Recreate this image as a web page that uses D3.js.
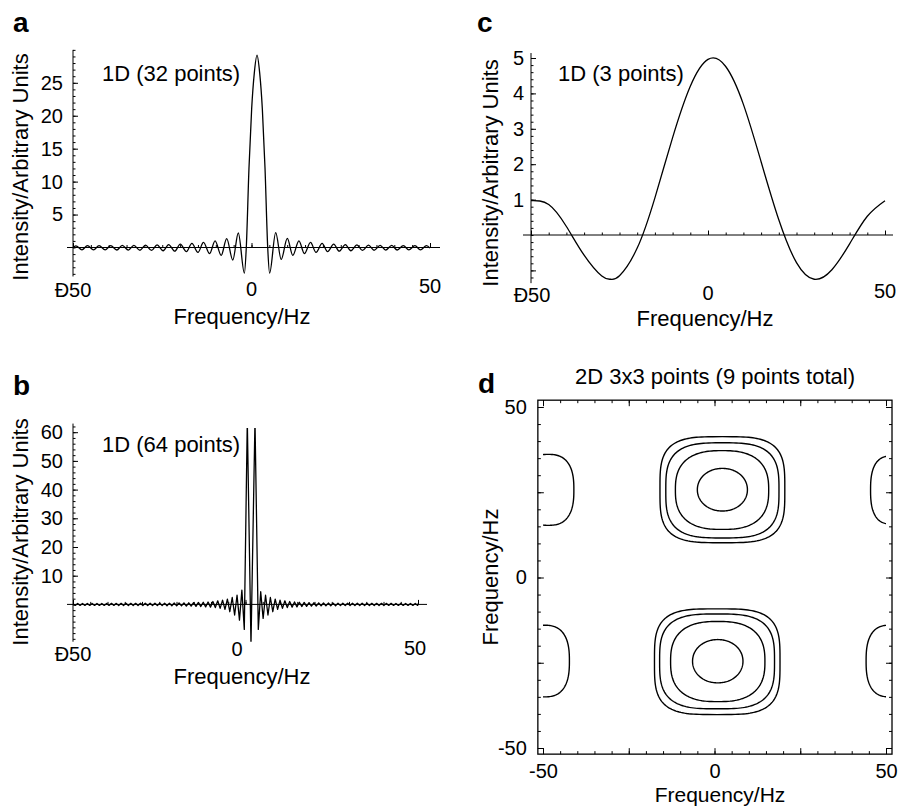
<!DOCTYPE html>
<html>
<head>
<meta charset="utf-8">
<script src="https://cdn.jsdelivr.net/npm/d3@7"></script>
<style>
body { margin: 0; background: #fff; }
svg text { font-family: "Liberation Sans", Arial, sans-serif; fill: #000; }
</style>
</head>
<body>
<svg id="fig" width="902" height="807"></svg>
<script>
// ---- data ----

// panel a: 1D, 32 points (extrema + main lobe)
const freqA = [-50, -49.2, -47.49, -45.95, -44.24, -42.7, -40.99, -39.45, -37.74, -36.2,
  -34.49, -32.95, -31.24, -29.7, -27.99, -26.45, -24.74, -23.2, -21.49, -19.95,
  -18.24, -16.7, -14.99, -13.45, -11.74, -10.2, -8.49, -6.95, -5.24, -3.7, -1.99,
  -1.46, -0.71, 0.04, 0.79, 1.54, 2.29, 3.04, 3.79, 4.54,
  5.07, 6.78, 8.32, 10.03, 11.57, 13.28, 14.82, 16.53, 18.07, 19.78,
  21.32, 23.03, 24.57, 26.28, 27.82, 29.53, 31.07, 32.78, 34.32, 36.03,
  37.57, 39.28, 40.82, 42.53, 44.07, 45.78, 47.32, 49.03, 50];
const intensityA = [-0.05, 0.26, -0.35, 0.27, -0.36, 0.28, -0.37, 0.29, -0.38, 0.31,
  -0.4, 0.33, -0.42, 0.36, -0.45, 0.4, -0.49, 0.45, -0.55, 0.52,
  -0.63, 0.62, -0.75, 0.78, -0.92, 1.0, -1.2, 1.35, -1.9, 2.2, -3.9,
  0, 12, 21, 26.5, 29.2, 26.5, 21, 12, 0,
  -3.9, 2.25, -1.8, 1.4, -1.2, 1.0, -0.92, 0.78, -0.75, 0.62,
  -0.63, 0.52, -0.55, 0.45, -0.49, 0.4, -0.45, 0.36, -0.42, 0.33,
  -0.4, 0.31, -0.38, 0.29, -0.37, 0.28, -0.36, 0.27, -0.1];

// panel b: 1D, 64 points (spikes run off the plot range)
const freqB = [-50, -49.35, -48.65, -47.95, -47.25, -46.55, -45.85, -45.15, -44.45, -43.75,
  -43.05, -42.35, -41.65, -40.95, -40.25, -39.55, -38.85, -38.15, -37.45, -36.75,
  -36.05, -35.35, -34.65, -33.95, -33.25, -32.55, -31.85, -31.15, -30.45, -29.75,
  -29.05, -28.35, -27.65, -26.95, -26.25, -25.55, -24.85, -24.15, -23.45, -22.75,
  -22.05, -21.35, -20.65, -19.95, -19.25, -18.55, -17.85, -17.15, -16.45, -15.75,
  -15.05, -14.35, -13.65, -12.95, -12.25, -11.55, -10.85, -10.15, -9.45, -8.75,
  -8.05, -7.35, -6.65, -5.95, -5.25, -4.55, -3.85, -3.15, -2.45, -1.75, -1.05,
  -0.35, 0.52, 1.59, 2.75, 3.71,
  4.41, 5.11, 5.81, 6.51, 7.21, 7.91, 8.61, 9.31, 10.01, 10.71,
  11.41, 12.11, 12.81, 13.51, 14.21, 14.91, 15.61, 16.31, 17.01, 17.71,
  18.41, 19.11, 19.81, 20.51, 21.21, 21.91, 22.61, 23.31, 24.01, 24.71,
  25.41, 26.11, 26.81, 27.51, 28.21, 28.91, 29.61, 30.31, 31.01, 31.71,
  32.41, 33.11, 33.81, 34.51, 35.21, 35.91, 36.61, 37.31, 38.01, 38.71,
  39.41, 40.11, 40.81, 41.51, 42.21, 42.91, 43.61, 44.31, 45.01, 45.71,
  46.41, 47.11, 47.81, 48.51, 49.21, 49.91, 50];
const intensityB = [0, -0.35, 0.35, -0.35, 0.35, -0.35, 0.35, -0.35, 0.35, -0.35,
  0.35, -0.35, 0.35, -0.35, 0.35, -0.36, 0.36, -0.36, 0.36, -0.37,
  0.37, -0.37, 0.37, -0.38, 0.38, -0.38, 0.38, -0.39, 0.39, -0.39,
  0.39, -0.4, 0.4, -0.4, 0.4, -0.41, 0.41, -0.43, 0.43, -0.45,
  0.45, -0.47, 0.47, -0.5, 0.5, -0.53, 0.53, -0.57, 0.57, -0.62,
  0.62, -0.68, 0.68, -0.75, 0.75, -0.85, 0.85, -0.95, 1.0, -1.1,
  1.25, -1.4, 1.5, -1.75, 1.85, -2.55, 2.4, -3.7, 3.2, -5.5, 5.0,
  -8.7, 64, -14, 64, -8.7,
  4.4, -4.9, 3.2, -3.7, 2.4, -2.55, 1.85, -1.75, 1.5, -1.4,
  1.25, -1.1, 1.0, -0.95, 0.85, -0.85, 0.75, -0.75, 0.68, -0.68,
  0.62, -0.62, 0.57, -0.57, 0.53, -0.53, 0.5, -0.5, 0.47, -0.47,
  0.45, -0.45, 0.43, -0.43, 0.41, -0.41, 0.4, -0.4, 0.4, -0.4,
  0.39, -0.39, 0.39, -0.39, 0.38, -0.38, 0.38, -0.38, 0.37, -0.37,
  0.37, -0.37, 0.36, -0.36, 0.36, -0.36, 0.35, -0.35, 0.35, -0.35,
  0.35, -0.35, 0.35, -0.35, 0.35, -0.35, 0.3];

// panel c: 1D, 3 points
const freqC = [-50, -45, -40, -35, -30, -27.5, -25, -20, -15, -10, -5, 0,
  5, 10, 15, 20, 25, 30, 35, 40, 45, 50];
const intensityC = [0.97, 0.86, 0.24, -0.57, -1.16, -1.25, -1.15, -0.37, 1.05, 2.75, 4.2, 4.96,
  4.76, 3.69, 2.07, 0.43, -0.78, -1.25, -0.98, -0.25, 0.53, 0.97];

// panel d: contour rings, extents in Hz (left, right, top, bottom)
const ringLeft   = [-15.9, -14.2, -11.4, -5.0, -17.5, -16.0, -12.8, -6.4, -56, 45.5, -57, 44.2];
const ringRight  = [20.5, 18.8, 15.8, 9.6, 19.1, 17.5, 14.7, 8.3, -41.0, 57.5, -42.3, 58];
const ringTop    = [41.3, 39.5, 37.2, 32.0, -9.2, -10.7, -12.9, -18.2, 36.1, 35.6, -14.0, -14.0];
const ringBottom = [10.2, 11.6, 14.1, 19.5, -40.2, -38.5, -36.4, -30.9, 15.3, 15.7, -35.0, -35.0];
const ringLevel  = [1, 2, 3, 4, 1, 2, 3, 4, 1, 1, 1, 1];

// tick labels
const xTickValues = [-50, 0, 50];
const xTickText1D = ["\u00D050", "0", "50"];
const xTickText2D = ["-50", "0", "50"];
const yLabelsA = [5, 10, 15, 20, 25];
const yLabelsB = [10, 20, 30, 40, 50, 60];
const yLabelsC = [1, 2, 3, 4, 5];

// ---- drawing ----
const svg = d3.select("#fig");
const FONT = '"Liberation Sans", Arial, sans-serif';

function cleanAxis(a, size) {
  a.select(".domain").remove();
  a.attr("font-family", FONT).attr("font-size", size);
}

function drawPanel1D(o) {
  const g = svg.append("g");
  const x0 = o.x(-50);

  // horizontal zero axis
  g.append("line")
    .attr("x1", o.x(-50) - o.zeroExt[0]).attr("x2", o.x(50) + o.zeroExt[1])
    .attr("y1", o.y(0)).attr("y2", o.y(0))
    .attr("stroke", "#000").attr("stroke-width", 1);
  // vertical axis
  g.append("line")
    .attr("x1", x0).attr("x2", x0)
    .attr("y1", o.y(o.yMin)).attr("y2", o.y(o.yMax))
    .attr("stroke", "#000").attr("stroke-width", 1);

  // y ticks (pointing right) and labels (left)
  g.append("g").attr("transform", `translate(${x0},0)`)
    .call(d3.axisRight(o.y).tickValues(o.yMinor).tickSize(2.5).tickFormat(""))
    .call(a => cleanAxis(a, 10));
  g.append("g").attr("transform", `translate(${x0},0)`)
    .call(d3.axisRight(o.y).tickValues(o.yMajor).tickSize(5).tickFormat(""))
    .call(a => cleanAxis(a, 10));
  g.append("g").attr("transform", `translate(${x0},0)`)
    .call(d3.axisLeft(o.y).tickValues(o.yLabels).tickSize(0).tickPadding(o.yPad)
      .tickFormat(d3.format("d")))
    .call(a => cleanAxis(a, 20));

  // x ticks on the zero axis (pointing up)
  g.append("g").attr("transform", `translate(0,${o.y(0)})`)
    .call(d3.axisTop(o.x).tickValues(d3.range(-50, 51, 5)).tickSize(2.5).tickFormat(""))
    .call(a => cleanAxis(a, 10));
  g.append("g").attr("transform", `translate(0,${o.y(0)})`)
    .call(d3.axisTop(o.x).tickValues(xTickValues).tickSize(4.5).tickFormat(""))
    .call(a => cleanAxis(a, 10));

  // x tick labels
  g.selectAll("text.xl").data(xTickValues).enter().append("text")
    .attr("class", "xl")
    .attr("x", (d, i) => o.x(d) + o.xLabDx[i])
    .attr("y", (d, i) => o.xLabBase[i])
    .attr("text-anchor", "middle").attr("font-size", 20)
    .text((d, i) => xTickText1D[i]);

  // the curve
  const clipId = "clip" + o.id;
  g.append("clipPath").attr("id", clipId).append("rect")
    .attr("x", x0 - 2).attr("width", o.x(50) - x0 + 14)
    .attr("y", o.y(o.clipMax)).attr("height", o.y(o.clipMin) - o.y(o.clipMax));
  const line = d3.line().x(d => o.x(d[0])).y(d => o.y(d[1])).curve(o.curve);
  g.append("path")
    .datum(o.freq.map((f, i) => [f, o.vals[i]]))
    .attr("clip-path", `url(#${clipId})`)
    .attr("d", line)
    .attr("fill", "none").attr("stroke", "#000")
    .attr("stroke-width", 1.3).attr("stroke-linejoin", "round");

  // texts
  g.append("text").attr("x", o.ann[0]).attr("y", o.ann[1])
    .attr("font-size", 22).text(o.annText);
  g.append("text").attr("x", o.xTitle[0]).attr("y", o.xTitle[1])
    .attr("text-anchor", "middle").attr("font-size", 22).text("Frequency/Hz");
  g.append("text")
    .attr("transform", `translate(${o.yTitle[0]},${o.yTitle[1]}) rotate(-90)`)
    .attr("text-anchor", "middle").attr("font-size", 22)
    .text("Intensity/Arbitrary Units");
  g.append("text").attr("x", o.letter[0]).attr("y", o.letter[1])
    .attr("font-size", 28).attr("font-weight", "bold").text(o.letterText);
}

// panel a
const xA = d3.scaleLinear().domain([-50, 50]).range([73, 430]);
const yA = d3.scaleLinear().domain([0, 25]).range([247.5, 82.8]);
drawPanel1D({
  id: "a", x: xA, y: yA, yMin: -4.4, yMax: 30, clipMin: -4.4, clipMax: 30,
  yMinor: d3.range(-4, 31, 1), yMajor: yLabelsA, yLabels: yLabelsA, yPad: 10,
  zeroExt: [6, 10], xLabDx: [0, 0, 0], xLabBase: [297, 296, 293],
  freq: freqA, vals: intensityA, curve: d3.curveMonotoneX,
  ann: [102, 81], annText: "1D (32 points)",
  xTitle: [242, 324], yTitle: [27.5, 167],
  letter: [13, 31.5], letterText: "a"
});

// panel b
const xB = d3.scaleLinear().domain([-50, 50]).range([73, 418]);
const yB = d3.scaleLinear().domain([0, 60]).range([604.4, 432.2]);
drawPanel1D({
  id: "b", x: xB, y: yB, yMin: -13, yMax: 63, clipMin: -13, clipMax: 61.5,
  yMinor: d3.range(-12, 63, 2), yMajor: yLabelsB, yLabels: yLabelsB, yPad: 10,
  zeroExt: [6, 9], xLabDx: [0, -8.5, -3], xLabBase: [661, 656, 655],
  freq: freqB, vals: intensityB, curve: d3.curveLinear,
  ann: [102, 452], annText: "1D (64 points)",
  xTitle: [242, 684], yTitle: [27.5, 532],
  letter: [13, 395], letterText: "b"
});

// panel c
const xC = d3.scaleLinear().domain([-50, 50]).range([531, 885]);
const yC = d3.scaleLinear().domain([0, 5]).range([235, 58]);
drawPanel1D({
  id: "c", x: xC, y: yC, yMin: -1.36, yMax: 5.14, clipMin: -1.36, clipMax: 5.14,
  yMinor: d3.range(-1.2, 5.1, 0.2), yMajor: [-1, 1, 2, 3, 4, 5], yLabels: yLabelsC, yPad: 7,
  zeroExt: [8, 8], xLabDx: [1, 0, 0], xLabBase: [302, 300, 298],
  freq: freqC, vals: intensityC, curve: d3.curveNatural,
  ann: [558, 81], annText: "1D (3 points)",
  xTitle: [705, 326], yTitle: [497.5, 173],
  letter: [477, 32], letterText: "c"
});

// panel d: contour map
const xD = d3.scaleLinear().domain([-50, 50]).range([543, 886]);
const yD = d3.scaleLinear().domain([-50, 50]).range([748, 407]);
const gd = svg.append("g");
const fx0 = xD(-51.5), fx1 = xD(51.75), fy0 = yD(52), fy1 = yD(-51.8);

gd.append("rect").attr("x", fx0).attr("y", fy0)
  .attr("width", fx1 - fx0).attr("height", fy1 - fy0)
  .attr("fill", "none").attr("stroke", "#000").attr("stroke-width", 1.3);

const minorD = d3.range(-50, 51, 5), majorD = d3.range(-50, 51, 25);
[[minorD, 3], [majorD, 6]].forEach(([vals, len]) => {
  gd.append("g").attr("transform", `translate(0,${fy1})`)
    .call(d3.axisTop(xD).tickValues(vals).tickSize(len).tickFormat("")).call(a => cleanAxis(a, 10));
  gd.append("g").attr("transform", `translate(0,${fy0})`)
    .call(d3.axisBottom(xD).tickValues(vals).tickSize(len).tickFormat("")).call(a => cleanAxis(a, 10));
  gd.append("g").attr("transform", `translate(${fx0},0)`)
    .call(d3.axisRight(yD).tickValues(vals).tickSize(len).tickFormat("")).call(a => cleanAxis(a, 10));
  gd.append("g").attr("transform", `translate(${fx1},0)`)
    .call(d3.axisLeft(yD).tickValues(vals).tickSize(len).tickFormat("")).call(a => cleanAxis(a, 10));
});

gd.append("g").attr("transform", `translate(${fx0},0)`)
  .call(d3.axisLeft(yD).tickValues(xTickValues).tickSize(0).tickPadding(11)
    .tickFormat((d, i) => xTickText2D[i]))
  .call(a => cleanAxis(a, 20));
gd.append("g").attr("transform", `translate(0,${fy1})`)
  .call(d3.axisBottom(xD).tickValues(xTickValues).tickSize(0).tickPadding(10)
    .tickFormat((d, i) => xTickText2D[i]))
  .call(a => cleanAxis(a, 20));

// rings: rounded (superellipse) outlines spanning each ring's extents
const ringPower = { 1: 3.6, 2: 3.2, 3: 2.6, 4: 2.05 };
gd.append("clipPath").attr("id", "clipD").append("rect")
  .attr("x", xD(-50)).attr("width", xD(50) - xD(-50))
  .attr("y", fy0).attr("height", fy1 - fy0);

const ringLine = d3.line().curve(d3.curveLinearClosed);
function ringPath(i) {
  const l = xD(ringLeft[i]), r = xD(ringRight[i]);
  const t = yD(ringTop[i]), b = yD(ringBottom[i]);
  const cx = (l + r) / 2, cy = (t + b) / 2, ax = (r - l) / 2, ay = (b - t) / 2;
  const edge = Math.abs(ringLeft[i] + ringRight[i]) / 2 > 40;
  const n = edge ? 2.6 : ringPower[ringLevel[i]];
  const pts = d3.range(0, 2 * Math.PI, Math.PI / 90).map(th => {
    const c = Math.cos(th), s = Math.sin(th);
    return [cx + ax * Math.sign(c) * Math.pow(Math.abs(c), 2 / n),
            cy + ay * Math.sign(s) * Math.pow(Math.abs(s), 2 / n)];
  });
  return ringLine(pts);
}
gd.append("g").attr("clip-path", "url(#clipD)")
  .selectAll("path").data(d3.range(ringLeft.length)).enter().append("path")
  .attr("d", ringPath)
  .attr("fill", "none").attr("stroke", "#000").attr("stroke-width", 1.4);

gd.append("text").attr("x", 715).attr("y", 384)
  .attr("text-anchor", "middle").attr("font-size", 22)
  .text("2D 3x3 points (9 points total)");
gd.append("text").attr("x", 720).attr("y", 802)
  .attr("text-anchor", "middle").attr("font-size", 21).text("Frequency/Hz");
gd.append("text").attr("transform", "translate(498,577) rotate(-90)")
  .attr("text-anchor", "middle").attr("font-size", 22).text("Frequency/Hz");
gd.append("text").attr("x", 478).attr("y", 393)
  .attr("font-size", 28).attr("font-weight", "bold").text("d");
</script>
</body>
</html>
